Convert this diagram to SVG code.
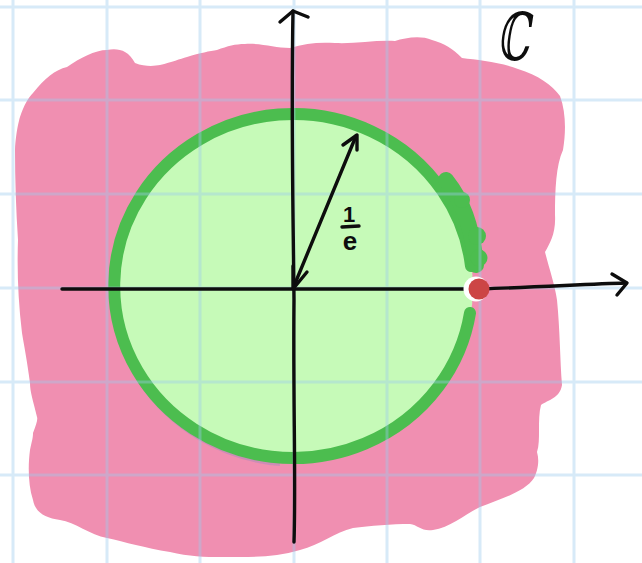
<svg xmlns="http://www.w3.org/2000/svg" width="642" height="563" viewBox="0 0 642 563">
<style>
.grid{stroke:#9ccbee;stroke-width:3;opacity:0.4;fill:none}
.ink{stroke:#0d0d0d;stroke-width:3.4;fill:none;stroke-linecap:round;stroke-linejoin:round}
.lbl{font-family:"Liberation Sans",Arial,sans-serif;font-weight:bold;fill:#0d0d0d}
.ring{fill:none;stroke:#4cbd4f;stroke-linecap:round}
</style>
<rect x="0" y="0" width="642" height="563" fill="#ffffff"/>
<g id="region-C">
<path fill="#f08fb1" d="M 33,93 C 45,78 55,70 67,67 C 80,58 95,50 107,50 C 118,48 128,50 135,63 C 145,67 155,66 160,65 C 172,62 180,59 187,57 C 200,53 210,51 217,50 C 228,46 235,44 245,44 C 262,43 275,48 290,48 C 305,43 320,42 335,43 C 355,44 375,40 395,41 C 405,38 420,35 432,40 C 445,44 452,48 462,58 C 478,60 500,62 518,69 C 538,75 552,85 560,96 C 566,112 566,132 563,150 C 556,165 555,190 555,215 C 556,233 550,243 545,252 C 549,268 555,285 557,300 C 560,330 560,360 562,385 C 560,398 548,400 541,405 C 537,420 541,440 537,452 C 540,462 537,472 534,478 C 525,492 500,499 480,507 C 465,514 450,528 433,530 C 422,532 418,525 410,524 C 392,524 370,526 353,528 C 335,532 320,545 300,550 C 280,556 260,557 240,557 C 215,557 195,558 170,552 C 145,548 125,542 107,538 C 90,535 75,522 60,520 C 45,518 35,512 33,500 C 28,485 28,465 30,450 C 32,440 33,438 33,433 C 36,425 38,420 37,417 C 33,400 30,392 30,383 C 27,360 24,345 22,333 C 18,300 17,270 18,240 C 16,210 15,180 15,150 C 16,130 20,117 20,117 C 24,105 28,98 33,93 Z"/>
</g>
<g id="disk">
<ellipse cx="294" cy="287" rx="179" ry="172" fill="#c6fab8"/>
<path d="M 140,380 A 183 177 0 0 0 280,463" fill="none" stroke="#c38bb8" stroke-width="6" opacity="0.8"/>
<path class="ring" stroke-width="12" d="M 470,313 A 179 172 0 1 1 471,266"/>
<path class="ring" stroke-width="16" d="M 446,180 C 462,200 472,225 476,265"/>
<circle cx="462" cy="200" r="8" fill="#4cbd4f"/>
<circle cx="477" cy="236" r="9" fill="#4cbd4f"/>
<circle cx="479" cy="258" r="8.5" fill="#4cbd4f"/>
</g>
<g id="grid">
<path class="grid" d="M13,0V563M107,0V563M200,0V563M294,0V563M387,0V563M480,0V563M574,0V563M0,7H642M0,100H642M0,194H642M0,288H642M0,382H642M0,475H642"/>
</g>
<g id="connectors">
<path class="ink" d="M 62,289 C 150,290 300,290 480,289 C 540,287 590,284 626,283"/>
<path class="ink" d="M 612,274 L 627,283 L 617,295"/>
<path class="ink" d="M 294,542 C 296,480 293,400 294,300 C 293,200 291,120 293,11"/>
<path class="ink" d="M 280,22 L 293,11 L 308,17"/>
<path class="ink" d="M 294,286 L 356,136"/>
<path class="ink" d="M 343,145 L 357,135 L 357,150"/>
<path class="ink" d="M 293,266 L 293,289 L 307,272"/>
</g>
<g id="dot">
<circle cx="476" cy="289" r="12.5" fill="#ffffff"/>
<circle cx="479" cy="289" r="10.5" fill="#cc4545"/>
</g>
<g id="label-radius">
<text class="lbl" x="349" y="222" font-size="22" text-anchor="middle">1</text>
<path class="ink" d="M 342,227 L 359,226"/>
<text class="lbl" x="350" y="250" font-size="26" text-anchor="middle">e</text>
</g>
<g id="label-C">
<text x="0" y="0" font-family="DejaVu Serif,serif" font-size="66" font-style="italic" fill="#0d0d0d" transform="translate(513,60) scale(0.62,1)" text-anchor="middle">ℂ</text>
</g>
</svg>
